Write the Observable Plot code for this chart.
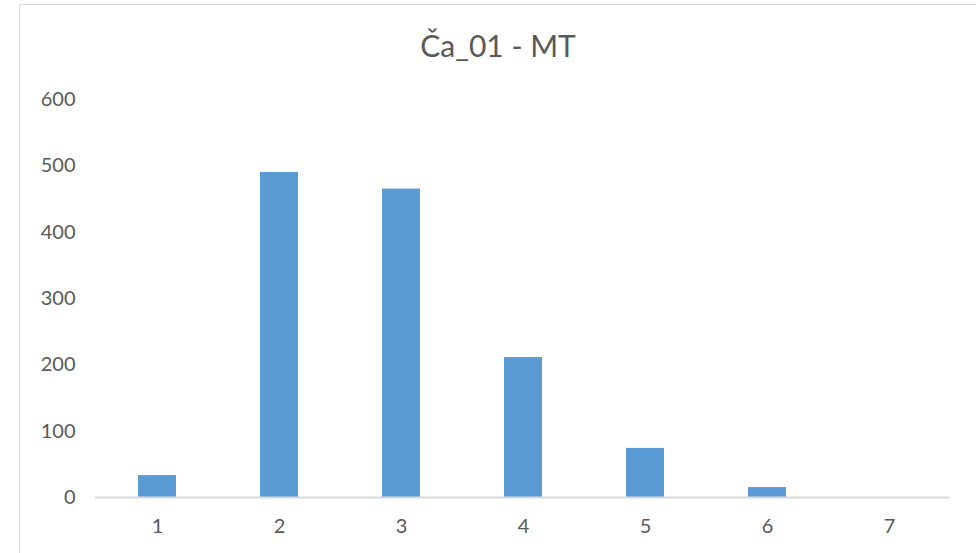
<!DOCTYPE html>
<html>
<head>
<meta charset="utf-8">
<script src="https://cdn.jsdelivr.net/npm/d3@7"></script>
<script src="https://cdn.jsdelivr.net/npm/@observablehq/plot@0.6"></script>
<style>
  html, body { margin: 0; padding: 0; background: #fff; }
  #wrap { position: relative; width: 976px; height: 553px; overflow: hidden; font-family: Lato, "Open Sans", sans-serif; }
  #frame { position: absolute; left: 19px; top: 4px; width: 980px; height: 570px; border: 1.5px solid #d9d9d9; box-sizing: border-box; }
  #title { position: absolute; left: 0; top: 27px; width: 996px; text-align: center; font-size: 30px; font-weight: 400; color: #595959; }
  #chart { position: absolute; left: 0; top: 70px; }
</style>
</head>
<body>
<div id="wrap">
  <div id="frame"></div>
  <div id="title">Ča_01 - MT</div>
  <div id="chart"></div>
</div>
<script>
// Counts per class
const categories = ["1", "2", "3", "4", "5", "6", "7"];
const counts = [33, 490, 465, 211, 74, 15, 0];
const yTicks = [0, 100, 200, 300, 400, 500, 600];

const data = categories.map((c, i) => ({category: c, count: counts[i]}));

const plot = Plot.plot({
  width: 976,
  height: 483,
  marginLeft: 95,
  marginRight: 26,
  marginTop: 29,
  marginBottom: 56,
  style: {fontFamily: "Lato, 'Open Sans', sans-serif", fontSize: "20px", color: "#595959", background: "transparent"},
  x: {domain: categories, paddingInner: 0.69, paddingOuter: 0.345, label: null},
  y: {domain: [0, 600], label: null},
  marks: [
    Plot.barY(data, {x: "category", y: "count", fill: "#5B9BD5"}),
    Plot.ruleY([0], {stroke: "#d9d9d9", strokeWidth: 2}),
    Plot.axisX({tickSize: 0, tickPadding: 21, label: null, fill: "#595959"}),
    Plot.axisY({ticks: yTicks, tickSize: 0, tickPadding: 20, label: null, fill: "#595959"})
  ]
});
document.getElementById("chart").appendChild(plot);
</script>
</body>
</html>
